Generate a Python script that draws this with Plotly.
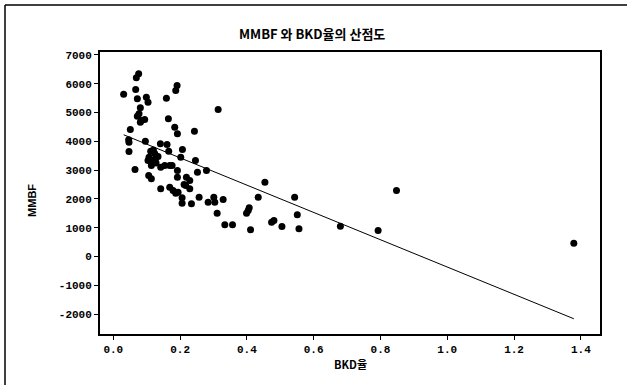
import plotly.graph_objects as go

bkd = [0.031, 0.076, 0.069, 0.067, 0.072, 0.099, 0.104, 0.081, 0.077, 0.072,
       0.084, 0.094, 0.081, 0.051, 0.046, 0.047, 0.047, 0.065, 0.096, 0.106,
       0.114, 0.141, 0.161, 0.166, 0.165, 0.159, 0.191, 0.187, 0.184, 0.192,
       0.243, 0.314, 0.207, 0.202, 0.246, 0.112, 0.107, 0.117, 0.104, 0.114,
       0.134, 0.124, 0.142, 0.154, 0.169, 0.176, 0.192, 0.192, 0.219, 0.229,
       0.212, 0.252, 0.279, 0.142, 0.169, 0.179, 0.187, 0.194, 0.206, 0.206,
       0.229, 0.217, 0.234, 0.257, 0.284, 0.301, 0.304, 0.329, 0.311, 0.334,
       0.357, 0.411, 0.399, 0.407, 0.404, 0.434, 0.454, 0.474, 0.481, 0.505,
       0.543, 0.551, 0.556, 0.680, 0.848, 0.793, 1.379, 0.120, 0.126, 0.128]
mmbf = [5635, 6344, 6205, 5800, 5476, 5531, 5358, 5163, 4955, 4871,
        4722, 4757, 4663, 4410, 4052, 3969, 3646, 3021, 4003, 2813,
        2698, 3913, 3889, 3656, 4781, 5497, 5938, 5764, 4490, 4260,
        4351, 5104, 3715, 3448, 3333, 3656, 3448, 3333, 3333, 3160,
        3472, 3576, 3101, 3160, 3160, 3160, 2986, 2753, 2753, 2639,
        2500, 2927, 2986, 2351, 2406, 2292, 2198, 2233, 2038, 1851,
        2351, 2465, 1830, 2059, 1885, 2059, 1885, 1979, 1503, 1101,
        1101, 927, 1503, 1691, 1597, 2059, 2580, 1191, 1250, 1042,
        2059, 1448, 962, 1052, 2292, 903, 462, 3700, 3390, 3250]

fit_intercept = 4375
fit_slope = -4742

x_ticks = [0.0, 0.2, 0.4, 0.6, 0.8, 1.0, 1.2, 1.4]
x_tick_labels = ["0.0", "0.2", "0.4", "0.6", "0.8", "1.0", "1.2", "1.4"]
y_ticks = [-2000, -1000, 0, 1000, 2000, 3000, 4000, 5000, 6000, 7000]
y_tick_labels = ["-2000", "-1000", "0", "1000", "2000", "3000", "4000", "5000", "6000", "7000"]

title_text = "MMBF 와 BKD율의 산점도"
x_title = "BKD율"
y_title = "MMBF"

xmin, xmax = min(bkd), max(bkd)
line_x = [xmin, xmax]
line_y = [fit_intercept + fit_slope * v for v in line_x]

fig = go.Figure()
fig.add_trace(go.Scatter(x=bkd, y=mmbf, mode="markers",
                         marker=dict(color="black", size=7, line=dict(width=0)),
                         showlegend=False))
fig.add_trace(go.Scatter(x=line_x, y=line_y, mode="lines",
                         line=dict(color="black", width=1), showlegend=False))

tick_font = dict(family="Liberation Mono", size=11, color="black", weight="bold")
fig.update_layout(
    width=627, height=385,
    margin=dict(l=100, r=27, t=52, b=51),
    paper_bgcolor="white", plot_bgcolor="white",
    xaxis=dict(range=[-0.0398, 1.4574], tickvals=x_ticks, ticktext=x_tick_labels,
               showgrid=False, zeroline=False, showline=True, linecolor="black",
               linewidth=2, mirror=True, ticks="outside", ticklen=4,
               tickcolor="black", tickfont=tick_font),
    yaxis=dict(range=[-2694, 7104], tickvals=y_ticks, ticktext=y_tick_labels,
               showgrid=False, zeroline=False, showline=True, linecolor="black",
               linewidth=2, mirror=True, ticks="outside", ticklen=4,
               tickcolor="black", tickfont=tick_font),
    annotations=[
        dict(text=title_text, x=0.424, y=1.067, xref="paper", yref="paper",
             showarrow=False, xanchor="center", yanchor="middle",
             font=dict(family="Noto Sans CJK KR", size=13, color="black", weight="bold")),
        dict(text=x_title, x=0.5, y=-0.105, xref="paper", yref="paper",
             showarrow=False, xanchor="center", yanchor="middle",
             font=dict(family="Noto Sans CJK KR", size=11, color="black", weight="bold")),
        dict(text=y_title, x=-0.136, y=0.472, xref="paper", yref="paper",
             showarrow=False, xanchor="center", yanchor="middle", textangle=-90,
             font=dict(family="Liberation Sans", size=11, color="black", weight="bold")),
    ],
    shapes=[
        dict(type="line", xref="paper", yref="paper", x0=-0.19, x1=1.06,
             y0=1.1667, y1=1.1667, line=dict(color="black", width=1.5)),
        dict(type="line", xref="paper", yref="paper", x0=-0.19, x1=-0.19,
             y0=1.1667, y1=-0.19, line=dict(color="black", width=1.5)),
    ],
)

fig.write_html("out.html")
